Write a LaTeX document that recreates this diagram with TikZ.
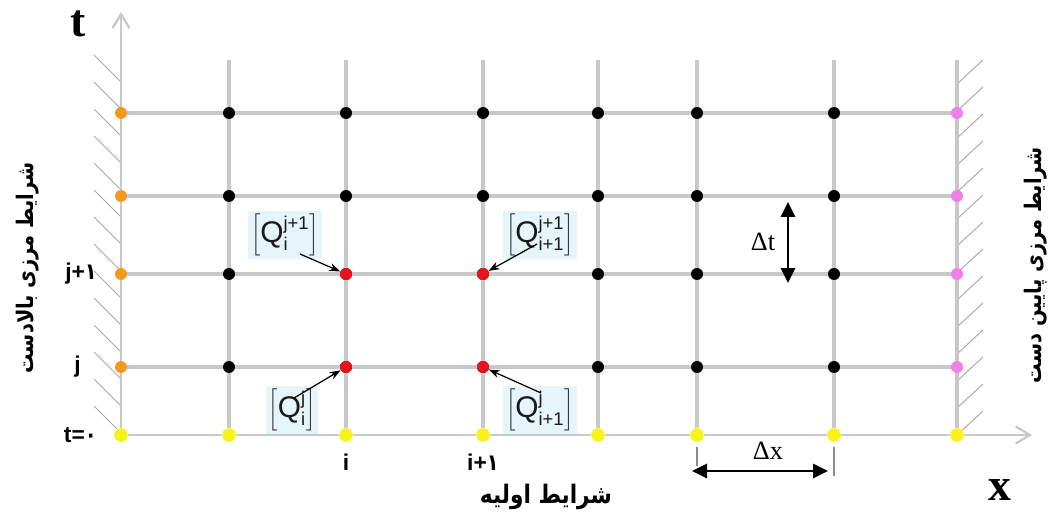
\documentclass[tikz,border=0pt]{standalone}
\usepackage{fontspec}
\setmainfont{Liberation Serif}
\setsansfont{Liberation Sans}
\newfontfamily\farsifont[Script=Arabic,FakeStretch=0.85]{DejaVu Sans}
\TeXXeTstate=1
\usetikzlibrary{arrows.meta,calc}
\definecolor{FDGrid}{HTML}{C8C8C8}
\definecolor{FDHatch}{HTML}{A8A8A8}
\definecolor{FDOrange}{HTML}{F39A1E}
\definecolor{FDPink}{HTML}{F07FEA}
\definecolor{FDYellow}{HTML}{F7F21C}
\definecolor{FDRed}{HTML}{E8141B}
\definecolor{FDBox}{HTML}{E6F5FA}
\definecolor{FDInk}{HTML}{1A1A1A}
\tikzset{
  gridline/.style={FDGrid,line width=1.9pt},
  axis/.style={gridline,line width=1.7pt,-{Straight Barb[length=2.8mm,width=3.4mm,line width=1.3pt]}},
  hatch/.style={FDHatch,line width=0.55pt},
  dot/.style={circle,inner sep=0pt,minimum size=2.4mm,fill=black},
  dotorange/.style={dot,fill=FDOrange},
  dotpink/.style={dot,fill=FDPink},
  dotred/.style={dot,fill=FDRed},
  dotyellow/.style={dot,minimum size=2.8mm,fill=FDYellow,draw=FDYellow!40,line width=0.4pt},
  qbox/.style={fill=FDBox,inner sep=0.6mm,text=FDInk,font=\sffamily\fontsize{17}{19}\selectfont},
  qarrow/.style={-{Stealth[length=2.2mm,width=1.6mm]},line width=0.7pt,black},
  dimarrow/.style={{Triangle[length=3mm,width=2.8mm]}-{Triangle[length=3mm,width=2.8mm]},line width=1.6pt,black},
  tick/.style={FDGrid!70!black,line width=0.6pt},
  idxlabel/.style={font=\sffamily\bfseries\fontsize{13}{15}\selectfont},
  axlabel/.style={font=\bfseries\fontsize{26}{28}\selectfont},
  deltalabel/.style={font=\fontsize{15}{17}\selectfont},
  farsilabel/.style={font=\farsifont\bfseries\fontsize{13}{15}\selectfont},
}
\newcommand{\qlabel}[2]{$\left[\mbox{Q}^{\mbox{\fontsize{10.5}{11}\selectfont #2}}_{\mbox{\fontsize{10.5}{11}\selectfont #1}}\right]$}

\begin{document}
\begin{tikzpicture}[x=0.02cm,y=-0.02cm]
  \useasboundingbox (0,0) rectangle (1051,520);
  % grid points
  \foreach \c/\x in {0/121,1/229,2/346,3/483,4/598,5/697,6/834,7/957}{
    \foreach \r/\y in {0/435,1/367,2/274,3/196,4/113}
      \coordinate (g-\c-\r) at (\x,\y);
    \coordinate (top-\c) at (\x,60);
  }
  \coordinate (tip-t) at (121,12);
  \coordinate (tip-x) at (1032,435);

  % hatched walls
  \foreach \y in {82,109,...,435}{
    \draw[hatch] (121,\y) -- ++(-27,-27);
  }
  \foreach \y in {84,111,...,435}{
    \draw[hatch] (957,\y) -- ++(26,-24);
  }

  % grid
  \foreach \r in {1,...,4}
    \draw[gridline] (g-0-\r) -- (g-7-\r);
  \foreach \c in {1,...,7}
    \draw[gridline] (g-\c-0) -- (top-\c);
  \draw[axis] (g-0-0) -- (tip-t);
  \draw[axis] (g-0-0) -- (tip-x);

  % nodes of the grid
  \foreach \c in {1,...,6}
    \foreach \r in {1,...,4}
      \node[dot] (p-\c-\r) at (g-\c-\r) {};
  \foreach \r in {1,...,4}{
    \node[dotorange] (p-0-\r) at (g-0-\r) {};
    \node[dotpink] (p-7-\r) at (g-7-\r) {};
  }
  \foreach \c in {0,...,7}
    \node[dotyellow] (p-\c-0) at (g-\c-0) {};
  \foreach \c/\r in {2/1,2/2,3/1,3/2}
    \node[dotred] (p-\c-\r) at (g-\c-\r) {};

  % unknowns
  \node[qbox] (q-a) at (285,235) {\qlabel{i}{j+1}};
  \node[qbox] (q-b) at (540,235) {\qlabel{i+1}{j+1}};
  \node[qbox] (q-c) at (292,410) {\qlabel{i}{j}};
  \node[qbox] (q-d) at (540,410) {\qlabel{i+1}{j}};
  \draw[qarrow] ($(q-a)+(15,19)$) -- (p-2-2);
  \draw[qarrow] ($(q-b)+(-3,9)$) -- (p-3-2);
  \draw[qarrow] ($(q-c)+(2,-12)$) -- (p-2-1);
  \draw[qarrow] ($(q-d)+(1,-17)$) -- (p-3-1);

  % steps
  \coordinate (dt-top) at (788,202);
  \coordinate (dt-bot) at (788,283);
  \draw[dimarrow] (dt-top) -- (dt-bot);
  \node[deltalabel] (lbl-dt) at (763,242) {Δt};
  \coordinate (dx-l) at (692,471);
  \coordinate (dx-r) at (828,471);
  \draw[dimarrow] (dx-l) -- (dx-r);
  \node[deltalabel] (lbl-dx) at (768,451) {Δx};
  \draw[tick] ($(g-5-0)+(0,12)$) -- ++(0,19);
  \draw[tick] ($(g-6-0)+(0,12)$) -- ++(0,29);

  % labels
  \node[axlabel] (lbl-t) at (78,24) {t};
  \node[axlabel] (lbl-x) at (1000,490) {x};
  \node[idxlabel,anchor=east] (lbl-t0) at (103,435) {t={\farsifont ۰}};
  \node[idxlabel,anchor=east] (lbl-j) at (87,367) {j};
  \node[idxlabel,anchor=east] (lbl-j1) at (103,274) {j+{\farsifont ۱}};
  \node[idxlabel] (lbl-i) at (346,462) {i};
  \node[idxlabel] (lbl-i1) at (483,462) {i+{\farsifont ۱}};
  \node[farsilabel,rotate=90] (lbl-up) at (28,268) {\beginR شرایط مرزی بالادست\endR};
  \node[farsilabel,rotate=90] (lbl-down) at (1036,265) {\beginR شرایط مرزی پایین دست\endR};
  \node[farsilabel,font=\farsifont\bfseries\fontsize{14.5}{16}\selectfont] (lbl-init) at (546,497) {\beginR شرایط اولیه\endR};
\end{tikzpicture}
\end{document}
